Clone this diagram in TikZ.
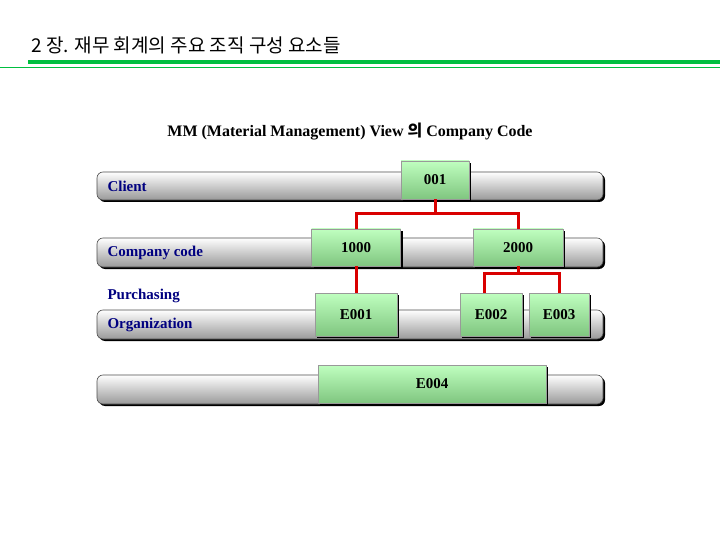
\documentclass[tikz,border=0pt]{standalone}
\usepackage{fontspec}
\setmainfont{Liberation Serif}
\newfontfamily\kor{Noto Sans CJK KR}
\usetikzlibrary{positioning, shadows}
\tikzset{
  lane/.style={draw=black!70, line width=0.6pt, top color=white, bottom color=black!40,
    rounded corners=6pt, drop shadow={shadow xshift=2pt, shadow yshift=-2pt, fill=black, opacity=1}},
  unit/.style={draw=black!40, top color=green!25, bottom color=green!55!black!50, inner sep=0pt,
    text height=9pt, text depth=0pt,
    font=\bfseries\fontsize{15}{15}\selectfont, drop shadow={shadow xshift=2pt, shadow yshift=-2pt, fill=black, opacity=1}},
  lvl/.style={anchor=west, text=blue!50!black, font=\bfseries\fontsize{15}{15}\selectfont},
  link/.style={draw=red!85!black, line width=3pt}
}
\begin{document}
\begin{tikzpicture}[x=1pt, y=-1pt]
  \useasboundingbox (0,0) rectangle (720,540);
  % title
  \node[anchor=west, font=\kor\fontsize{19}{19}\selectfont] (title) at (28,45) {2 장. 재무 회계의 주요 조직 구성 요소들};
  \fill[green!50!teal] (28,60) rectangle (720,64);
  \draw[green!50!teal, line width=0.8pt] (0,67) -- (720,67);
  \node[font=\bfseries\fontsize{16}{16}\selectfont] (sub) at (350,132) {MM (Material Management) View {\kor 의} Company Code};
  % lanes
  \path[lane] (97,172) rectangle (603,200);
  \path[lane] (97,238) rectangle (603,267);
  \path[lane] (97,310) rectangle (603,339);
  \path[lane] (97,375) rectangle (603,404);
  \node[lvl] (client) at (104,186) {Client};
  \node[lvl] (cc) at (104,253) {Company code};
  \node[lvl] (purch) at (104,296) {Purchasing};
  \node[lvl] (org) at (104,325) {Organization};
  % units
  \node[unit, minimum width=68pt, minimum height=38pt] (c001) at (435,180) {001};
  \node[unit, minimum width=89pt, minimum height=37pt] (c1000) at (356,247.5) {1000};
  \node[unit, minimum width=90pt, minimum height=37pt] (c2000) at (518,247.5) {2000};
  \node[unit, minimum width=82pt, minimum height=43pt] (e001) at (356,314.5) {E001};
  \node[unit, minimum width=62pt, minimum height=43pt] (e002) at (491,314.5) {E002};
  \node[unit, minimum width=60pt, minimum height=43pt] (e003) at (559,314.5) {E003};
  \node[unit, minimum width=228pt, minimum height=38pt] (e004) at (432,384) {E004};
  % links
  \draw[link] (c001.south) -- ++(0,14) -| (c1000.north);
  \draw[link] (c001.south) ++(0,14) -| (c2000.north);
  \draw[link] (c1000.south) -- (e001.north);
  \draw[link] (c2000.south) -- ++(0,7) coordinate (split) -| ([xshift=-7pt]e002.north);
  \draw[link] (split) -| (e003.north);
\end{tikzpicture}
\end{document}
